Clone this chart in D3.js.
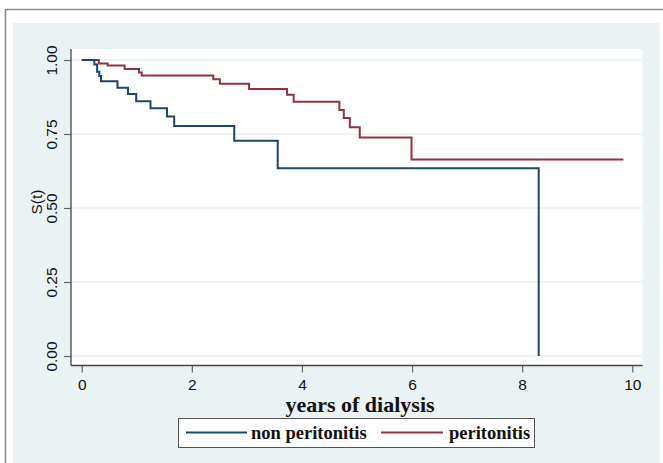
<!DOCTYPE html>
<html>
<head>
<meta charset="utf-8">
<script src="https://cdn.jsdelivr.net/npm/d3@7"></script>
<style>
  html, body { margin: 0; padding: 0; background: #ffffff; }
  svg { display: block; }
</style>
</head>
<body>
<div id="chart"></div>
<script>
// ---- data ----
const nonPeriTimes = [0, 0.23, 0.28, 0.32, 0.35, 0.65, 0.84, 0.99, 1.25, 1.55, 1.68, 2.77, 3.56, 8.30];
const nonPeriSurv  = [1, 0.985, 0.960, 0.946, 0.928, 0.906, 0.885, 0.861, 0.837, 0.809, 0.777, 0.727, 0.634, 0];
const periTimes = [0, 0.31, 0.47, 0.78, 1.04, 1.09, 2.39, 2.51, 3.04, 3.73, 3.85, 4.68, 4.76, 4.87, 5.05, 5.99, 9.84];
const periSurv  = [1, 0.988, 0.981, 0.970, 0.958, 0.948, 0.935, 0.920, 0.902, 0.883, 0.859, 0.831, 0.804, 0.773, 0.738, 0.664, 0.664];
const xTicks = [0, 2, 4, 6, 8, 10];
const yTicks = [0, 0.25, 0.5, 0.75, 1];
const seriesNames = ["non peritonitis", "peritonitis"];
const seriesColors = ["#1a476f", "#90353b"];
const xTitle = "years of dialysis";
const yTitle = "S(t)";

const W = 663, H = 463;
const svg = d3.select("#chart").append("svg").attr("width", W).attr("height", H);

// outer graph region
svg.append("rect").attr("x", 13).attr("y", 23).attr("width", 646.5).attr("height", H - 23).attr("fill", "#eaf2f3");
svg.append("path").attr("d", `M5.5,${H} L5.5,9.5 L${W},9.5`).attr("fill", "none").attr("stroke", "#8a8a8a").attr("stroke-width", 1.5);

// plot region
const plotL = 71, plotT = 49, plotR = 642.5, plotB = 365.5;
svg.append("rect").attr("x", plotL).attr("y", plotT).attr("width", plotR - plotL).attr("height", plotB - plotT).attr("fill", "#ffffff");

const x = d3.scaleLinear().domain([0, 10]).range([81.7, 632.3]);
const y = d3.scaleLinear().domain([0, 1]).range([356, 60]);

// gridlines
svg.append("g").selectAll("line").data(yTicks).join("line")
  .attr("x1", plotL).attr("x2", plotR)
  .attr("y1", d => y(d)).attr("y2", d => y(d))
  .attr("stroke", "#eaf2f3").attr("stroke-width", 1.5);

// axes
const gx = svg.append("g").attr("transform", `translate(0,${plotB})`)
  .call(d3.axisBottom(x).tickValues(xTicks).tickFormat(d3.format("d")).tickSize(7).tickPadding(6));
const gy = svg.append("g").attr("transform", `translate(${plotL},0)`)
  .call(d3.axisLeft(y).tickValues(yTicks).tickFormat(d3.format(".2f")).tickSize(7));
[gx, gy].forEach(g => {
  g.select(".domain").remove();
  g.selectAll(".tick line").attr("stroke", "#666").attr("stroke-width", 1.2);
  g.selectAll("text").attr("fill", "#111").style("font-family", "'Liberation Sans', Arial, sans-serif").style("font-size", "15.5px");
});
gy.selectAll(".tick text")
  .attr("transform", "rotate(-90)")
  .attr("x", 0).attr("y", -14).attr("dy", 0)
  .attr("text-anchor", "middle");

// axis lines
svg.append("line").attr("x1", plotL).attr("x2", plotL).attr("y1", plotT).attr("y2", plotB).attr("stroke", "#444").attr("stroke-width", 1.3);
svg.append("line").attr("x1", plotL).attr("x2", plotR).attr("y1", plotB).attr("y2", plotB).attr("stroke", "#444").attr("stroke-width", 1.3);

// curves
const line = d3.line().x(d => x(d[0])).y(d => y(d[1])).curve(d3.curveStepAfter);
const series = [
  d3.zip(nonPeriTimes, nonPeriSurv),
  d3.zip(periTimes, periSurv)
];
[1, 0].forEach(i => {
  svg.append("path").datum(series[i]).attr("d", line)
    .attr("fill", "none").attr("stroke", seriesColors[i]).attr("stroke-width", 2);
});

// titles
svg.append("text").attr("x", 360).attr("y", 412).attr("text-anchor", "middle")
  .style("font-family", "'Liberation Serif', 'Times New Roman', serif").style("font-weight", "bold").style("font-size", "22px")
  .attr("fill", "#111").text(xTitle);
svg.append("text").attr("transform", "translate(42,202) rotate(-90)").attr("text-anchor", "middle")
  .style("font-family", "'Liberation Sans', Arial, sans-serif").style("font-size", "15.5px")
  .attr("fill", "#111").text(yTitle);

// legend
const lg = svg.append("g");
lg.append("rect").attr("x", 178.5).attr("y", 418.5).attr("width", 356).attr("height", 29)
  .attr("fill", "#ffffff").attr("stroke", "#555").attr("stroke-width", 1);
const legendItems = [
  { x1: 186, x2: 247, tx: 251 },
  { x1: 381, x2: 443, tx: 449 }
];
legendItems.forEach((it, i) => {
  lg.append("line").attr("x1", it.x1).attr("x2", it.x2).attr("y1", 432.5).attr("y2", 432.5)
    .attr("stroke", seriesColors[i]).attr("stroke-width", 1.8);
  lg.append("text").attr("x", it.tx).attr("y", 439)
    .style("font-family", "'Liberation Serif', 'Times New Roman', serif").style("font-weight", "bold").style("font-size", "18.5px")
    .attr("fill", "#111").text(seriesNames[i]);
});
</script>
</body>
</html>
